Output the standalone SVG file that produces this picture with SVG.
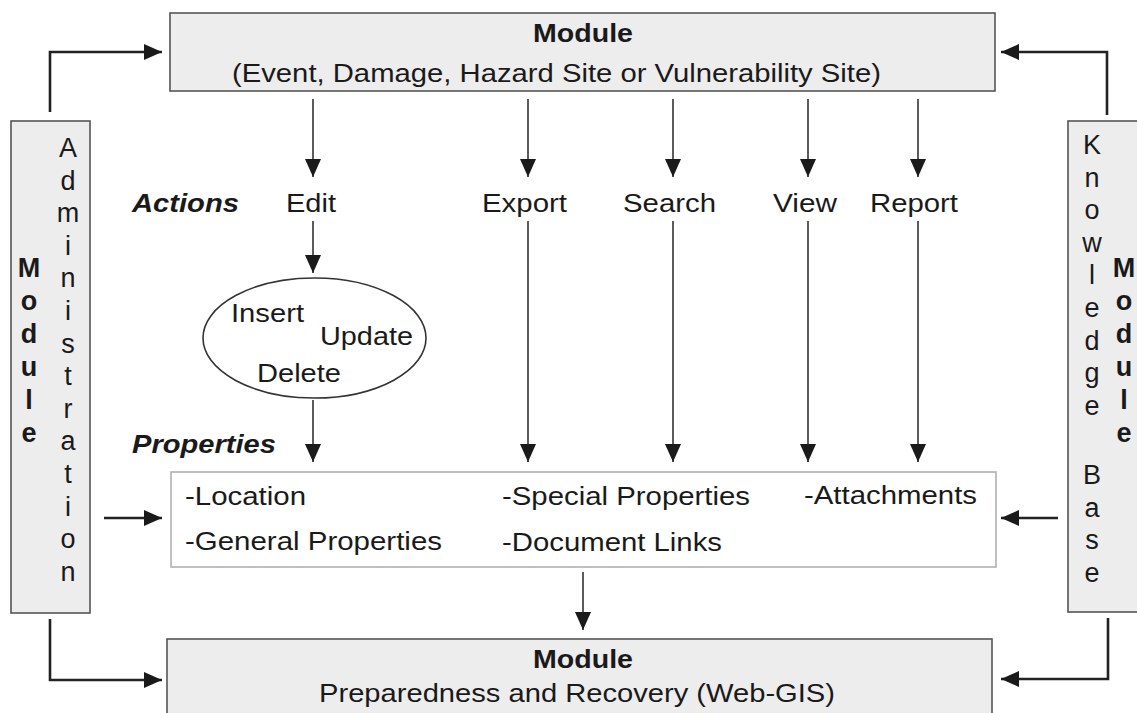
<svg xmlns="http://www.w3.org/2000/svg" width="1137" height="713" viewBox="0 0 1137 713">
<defs>
<style>
.box{fill:#ededed;stroke:#555;stroke-width:1.6}
.pbox{fill:#fff;stroke:#b0b0b0;stroke-width:1.6}
.t{font-family:"Liberation Sans",Arial,sans-serif;font-size:26.5px;fill:#1a1a1a}
.b{font-weight:bold}
.bi{font-weight:bold;font-style:italic}
.v{font-family:"Liberation Sans",Arial,sans-serif;font-size:27px;fill:#1a1a1a;text-anchor:middle}
.thin{fill:none;stroke:#333;stroke-width:1.6}
.thick{fill:none;stroke:#222;stroke-width:2.6}
</style>
<marker id="ah" markerUnits="userSpaceOnUse" markerWidth="18" markerHeight="16" refX="18" refY="8" orient="auto" viewBox="0 0 18 16">
<path d="M0,0 L18,8 L0,16 z" fill="#1a1a1a"/>
</marker>
</defs>
<rect width="1137" height="713" fill="#fff"/>

<g id="top-module">
<rect class="box" x="170" y="13" width="825" height="78"/>
<text class="t b" x="583" y="42" text-anchor="middle" textLength="100" lengthAdjust="spacingAndGlyphs">Module</text>
<text class="t" x="232" y="82" textLength="649" lengthAdjust="spacingAndGlyphs">(Event, Damage, Hazard Site or Vulnerability Site)</text>
</g>

<g id="admin-module">
<rect class="box" x="11" y="121" width="79" height="492"/>
<g class="v b"><text x="29" y="277">M</text><text x="29" y="310">o</text><text x="29" y="343">d</text><text x="29" y="376">u</text><text x="29" y="409">l</text><text x="29" y="442">e</text></g>
<g class="v">
<text x="68" y="157">A</text><text x="68" y="189.6">d</text><text x="68" y="222.2">m</text><text x="68" y="254.8">i</text><text x="68" y="287.4">n</text><text x="68" y="320">i</text><text x="68" y="352.6">s</text><text x="68" y="385.2">t</text><text x="68" y="417.8">r</text><text x="68" y="450.4">a</text><text x="68" y="483">t</text><text x="68" y="515.6">i</text><text x="68" y="548.2">o</text><text x="68" y="580.8">n</text>
</g>
</g>

<g id="knowledge-module">
<rect class="box" x="1068" y="121" width="100" height="491"/>
<g class="v">
<text x="1092" y="154">K</text><text x="1092" y="186.6">n</text><text x="1092" y="219.2">o</text><text x="1092" y="251.8">w</text><text x="1092" y="284.4">l</text><text x="1092" y="317">e</text><text x="1092" y="349.6">d</text><text x="1092" y="382.2">g</text><text x="1092" y="414.8">e</text>
<text x="1092" y="484">B</text><text x="1092" y="516.6">a</text><text x="1092" y="549.2">s</text><text x="1092" y="581.8">e</text>
</g>
<g class="v b"><text x="1124" y="277">M</text><text x="1124" y="310">o</text><text x="1124" y="343">d</text><text x="1124" y="376">u</text><text x="1124" y="409">l</text><text x="1124" y="442">e</text></g>
</g>

<g id="actions">
<text class="t bi" x="132" y="212" textLength="107" lengthAdjust="spacingAndGlyphs">Actions</text>
<text class="t" x="286" y="212" textLength="50" lengthAdjust="spacingAndGlyphs">Edit</text>
<text class="t" x="482" y="212" textLength="85" lengthAdjust="spacingAndGlyphs">Export</text>
<text class="t" x="623" y="212" textLength="93" lengthAdjust="spacingAndGlyphs">Search</text>
<text class="t" x="773" y="212" textLength="64" lengthAdjust="spacingAndGlyphs">View</text>
<text class="t" x="870" y="212" textLength="88" lengthAdjust="spacingAndGlyphs">Report</text>
</g>

<g id="edit-ops">
<ellipse cx="314.5" cy="338" rx="111.5" ry="60" fill="#fff" stroke="#333" stroke-width="1.6"/>
<text class="t" x="231" y="322" textLength="73" lengthAdjust="spacingAndGlyphs">Insert</text>
<text class="t" x="320" y="345" textLength="93" lengthAdjust="spacingAndGlyphs">Update</text>
<text class="t" x="257" y="382" textLength="84" lengthAdjust="spacingAndGlyphs">Delete</text>
</g>

<g id="properties">
<text class="t bi" x="132" y="453" textLength="144" lengthAdjust="spacingAndGlyphs">Properties</text>
<rect class="pbox" x="171" y="472" width="825" height="95"/>
<text class="t" x="185" y="505" textLength="121" lengthAdjust="spacingAndGlyphs">-Location</text>
<text class="t" x="185" y="550" textLength="257" lengthAdjust="spacingAndGlyphs">-General Properties</text>
<text class="t" x="502" y="505" textLength="248" lengthAdjust="spacingAndGlyphs">-Special Properties</text>
<text class="t" x="502" y="551" textLength="220" lengthAdjust="spacingAndGlyphs">-Document Links</text>
<text class="t" x="804" y="504" textLength="173" lengthAdjust="spacingAndGlyphs">-Attachments</text>
</g>

<g id="bottom-module">
<rect class="box" x="167" y="639" width="825" height="100"/>
<text class="t b" x="583" y="668" text-anchor="middle" textLength="100" lengthAdjust="spacingAndGlyphs">Module</text>
<text class="t" x="319" y="702" textLength="516" lengthAdjust="spacingAndGlyphs">Preparedness and Recovery (Web-GIS)</text>
</g>

<g id="connectors">
<path class="thick" d="M50,112 V52 H162" marker-end="url(#ah)"/>
<path class="thick" d="M1107,115 V52 H1001" marker-end="url(#ah)"/>
<path class="thick" d="M50,619 V680 H162" marker-end="url(#ah)"/>
<path class="thick" d="M1108,618 V679 H1001" marker-end="url(#ah)"/>
<path class="thick" d="M104,518 H162" marker-end="url(#ah)"/>
<path class="thick" d="M1058,518 H1001" marker-end="url(#ah)"/>
<path class="thin" d="M313,99 V177" marker-end="url(#ah)"/>
<path class="thin" d="M528,99 V177" marker-end="url(#ah)"/>
<path class="thin" d="M673,99 V177" marker-end="url(#ah)"/>
<path class="thin" d="M808,99 V177" marker-end="url(#ah)"/>
<path class="thin" d="M918,99 V177" marker-end="url(#ah)"/>
<path class="thin" d="M313,221 V273" marker-end="url(#ah)"/>
<path class="thin" d="M313,400 V462" marker-end="url(#ah)"/>
<path class="thin" d="M528,221 V462" marker-end="url(#ah)"/>
<path class="thin" d="M673,221 V462" marker-end="url(#ah)"/>
<path class="thin" d="M808,221 V462" marker-end="url(#ah)"/>
<path class="thin" d="M918,221 V462" marker-end="url(#ah)"/>
<path class="thin" d="M583,572 V630" marker-end="url(#ah)"/>
</g>
</svg>
